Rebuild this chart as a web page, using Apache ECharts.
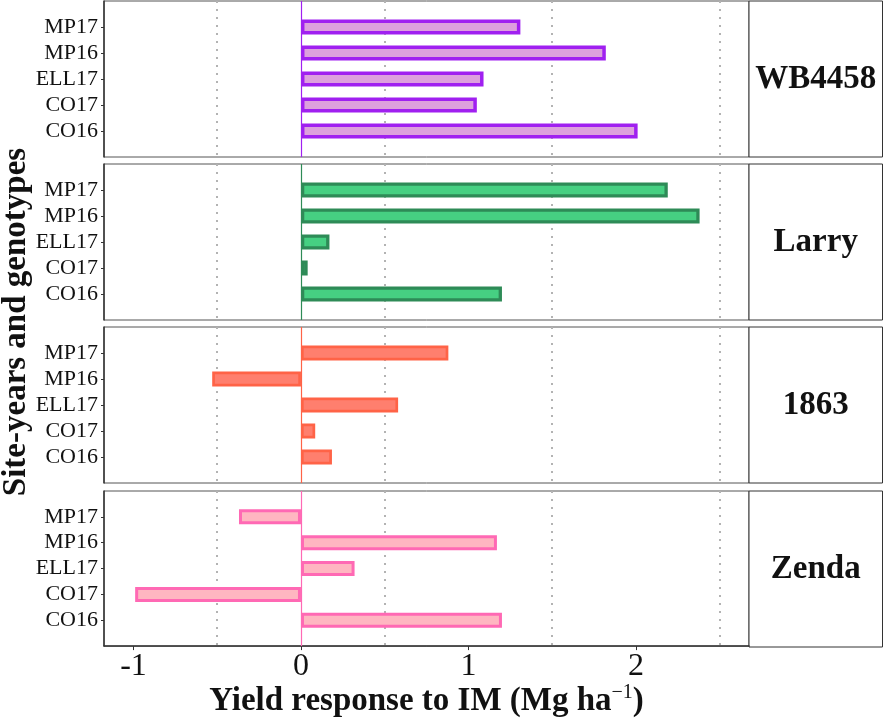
<!DOCTYPE html>
<html>
<head>
<meta charset="utf-8">
<script src="https://cdn.jsdelivr.net/npm/echarts@6/dist/echarts.min.js"></script>
<style>html,body{margin:0;padding:0;background:#fff;}#c{width:883px;height:720px;}</style>
</head>
<body>
<div id="c"></div>
<script>
// ---- data ----
const categories = ['MP17', 'MP16', 'ELL17', 'CO17', 'CO16'];
const genotypes = ['WB4458', 'Larry', '1863', 'Zenda'];
const wb4458 = [1.31, 1.82, 1.09, 1.05, 2.01];
const larry  = [2.19, 2.38, 0.17, 0.04, 1.20];
const g1863  = [0.88, -0.53, 0.58, 0.085, 0.185];
const zenda  = [-0.37, 1.17, 0.32, -0.99, 1.20];
const xTicks = [-1, 0, 1, 2];
const xMinorBreaks = [-0.5, 0.5, 1.5, 2.5];
const xRange = [-1.176, 2.675];

// ---- styling / layout ----
const seriesValues = [wb4458, larry, g1863, zenda];
const borderColors = ['#A020F0', '#2E8B57', '#FF6347', '#FF69B4'];
const fillColors   = ['#DDA0DD', '#46D082', '#FF7F6E', '#FFB6C1'];
const borderWidths = [3.5, 3.3, 2.7, 3];
const FONT = "'Liberation Serif', 'Times New Roman', serif";
const panelLeft = 104, panelRight = 749, stripRight = 882.5;
const panelTops = [1, 164, 327, 491];
const panelH = 156;

const yCats = [''].concat(categories).concat(['']);

const grids = [], xAxes = [], yAxes = [], series = [], graphics = [];
panelTops.forEach((top, i) => {
  const last = i === panelTops.length - 1;
  grids.push({left: panelLeft, top: top, width: panelRight - panelLeft, height: panelH,
    show: true, borderColor: '#555', borderWidth: 1, backgroundColor: '#fff', containLabel: false});
  xAxes.push({
    type: 'value', gridIndex: i, min: xRange[0], max: xRange[1],
    splitLine: {show: false},
    axisLine: {show: last, onZero: false, lineStyle: {color: '#333', width: 1.5}},
    axisTick: {show: last, customValues: xTicks, length: 4, lineStyle: {color: '#333', width: 1}},
    axisLabel: {show: last, customValues: xTicks, fontSize: 32, fontFamily: FONT, color: '#111', margin: 4},
    name: last ? '{t|Yield response to IM (Mg ha}{s|−1}{t|)}' : '',
    nameLocation: 'middle', nameGap: 32,
    nameTextStyle: {
      rich: {
        t: {fontSize: 33, fontWeight: 'bold', fontFamily: FONT, color: '#111', lineHeight: 36},
        s: {fontSize: 20, fontFamily: FONT, color: '#111', verticalAlign: 'top', lineHeight: 36, padding: [0, 0, 16, 0]}
      }
    }
  });
  yAxes.push({
    type: 'category', gridIndex: i, data: yCats, inverse: true, boundaryGap: false,
    axisLine: {show: true, onZero: false, lineStyle: {color: '#333', width: 1.5}},
    axisTick: {show: true, length: 3, interval: (idx, val) => val !== '', lineStyle: {color: '#333'}},
    axisLabel: {fontSize: 22, fontFamily: FONT, color: '#111', margin: 6, interval: 0},
    splitLine: {show: false}
  });
  const markData = xMinorBreaks.map(v => ({xAxis: v, lineStyle: {color: '#b3b3b3', type: [2, 6], width: 2}}));
  markData.push({xAxis: 0, lineStyle: {color: borderColors[i], type: 'solid', width: 1.2}});
  series.push({
    type: 'bar', xAxisIndex: i, yAxisIndex: i, z: 2,
    data: seriesValues[i].map((v, k) => [v, categories[k]]),
    barWidth: 15, barMaxWidth: 30,
    itemStyle: {color: fillColors[i], borderColor: borderColors[i], borderWidth: borderWidths[i]},
    markLine: {silent: true, symbol: 'none', z: 1, animation: false, label: {show: false}, data: markData}
  });
  graphics.push({type: 'rect', shape: {x: panelRight, y: top, width: stripRight - panelRight, height: panelH},
    style: {fill: '#fff', stroke: '#333', lineWidth: 1}});
  graphics.push({type: 'text', x: (panelRight + stripRight) / 2, y: top + panelH / 2,
    style: {text: genotypes[i], font: "bold 33px " + FONT, fill: '#111', align: 'center', verticalAlign: 'middle'}});
});
graphics.push({type: 'text', x: 16, y: 322, rotation: Math.PI / 2,
  style: {text: 'Site-years and genotypes', font: "bold 33px " + FONT, fill: '#111', align: 'center', verticalAlign: 'middle'}});

const chart = echarts.init(document.getElementById('c'));
chart.setOption({
  animation: false,
  backgroundColor: '#fff',
  grid: grids, xAxis: xAxes, yAxis: yAxes, series: series, graphic: graphics
});
</script>
</body>
</html>
